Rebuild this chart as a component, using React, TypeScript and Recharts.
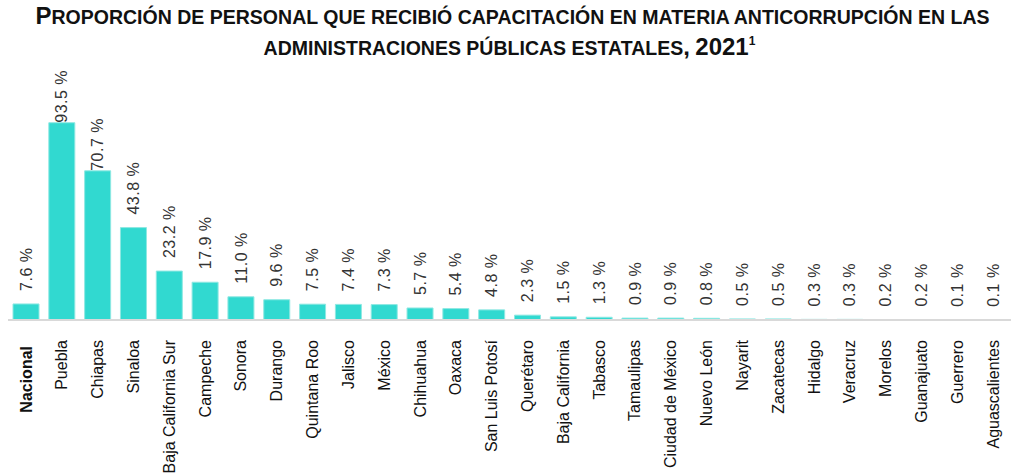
import React from 'react';
import { BarChart, Bar, XAxis, YAxis, LabelList } from 'recharts';

const titleLines = [
  'Proporción de personal que recibió capacitación en materia anticorrupción en las',
  'administraciones públicas estatales, 2021',
];

const states = [
  'Nacional', 'Puebla', 'Chiapas', 'Sinaloa', 'Baja California Sur', 'Campeche', 'Sonora',
  'Durango', 'Quintana Roo', 'Jalisco', 'México', 'Chihuahua', 'Oaxaca', 'San Luis Potosí',
  'Querétaro', 'Baja California', 'Tabasco', 'Tamaulipas', 'Ciudad de México', 'Nuevo León',
  'Nayarit', 'Zacatecas', 'Hidalgo', 'Veracruz', 'Morelos', 'Guanajuato', 'Guerrero',
  'Aguascalientes',
];

const percents = [
  7.6, 93.5, 70.7, 43.8, 23.2, 17.9, 11.0, 9.6, 7.5, 7.4, 7.3, 5.7, 5.4, 4.8,
  2.3, 1.5, 1.3, 0.9, 0.9, 0.8, 0.5, 0.5, 0.3, 0.3, 0.2, 0.2, 0.1, 0.1,
];

const data = states.map((name, i) => ({ name, value: percents[i] }));

const BAR = '#31d9d0';
const FONT = '"Liberation Sans", Arial, sans-serif';
const TITLE_FONT = '"Liberation Sans Narrow", "Liberation Sans", Arial, sans-serif';

// fake small caps: capitals and digits big, the rest upper-cased a bit smaller
const SmallCaps = ({ text }: { text: string }) => (
  <>
    {text.split('').map((ch, i) => {
      const big = ch !== ch.toLowerCase() || /[0-9,]/.test(ch);
      return (
        <span key={i} style={{ fontSize: big ? 24 : 19.5 }}>
          {ch.toUpperCase()}
        </span>
      );
    })}
  </>
);

const StateTick = (props: any) => {
  const { x, y, payload } = props;
  const bold = payload.value === 'Nacional';
  const ty = y + (bold ? 18 : 12);
  return (
    <text
      x={x}
      y={ty}
      dy="0.35em"
      transform={`rotate(-90, ${x}, ${ty})`}
      textAnchor="end"
      fontFamily={FONT}
      fontSize={16}
      fontWeight={bold ? 700 : 400}
      fill="#111"
    >
      {payload.value}
    </text>
  );
};

const ValueLabel = (props: any) => {
  const { x, y, width, value } = props;
  const cx = x + width / 2;
  // tallest label sits right on its bar, so it stays under the title
  const ty = y - 13 < 122 ? y : y - 13;
  return (
    <text
      x={cx}
      y={ty}
      dy="0.35em"
      transform={`rotate(-90, ${cx}, ${ty})`}
      textAnchor="start"
      fontFamily={FONT}
      fontSize={16}
      letterSpacing={0.5}
      fill="#333"
    >
      {`${Number(value).toFixed(1)} %`}
    </text>
  );
};

export default function App() {
  return (
    <div style={{ position: 'absolute', left: 0, top: 0, width: 1011, height: 474, background: '#fff' }}>
      <div
        style={{
          fontFamily: TITLE_FONT,
          fontWeight: 700,
          color: '#111',
          textAlign: 'center',
          lineHeight: '27px',
          paddingTop: 2,
          height: 58,
          whiteSpace: 'nowrap',
        }}
      >
        <div style={{ paddingLeft: 14, height: 26 }}>
          <SmallCaps text={titleLines[0]} />
        </div>
        <div style={{ paddingLeft: 8, height: 27 }}>
          <SmallCaps text={titleLines[1]} />
          <sup style={{ fontSize: 12, verticalAlign: 10 }}>1</sup>
        </div>
      </div>
      <BarChart
        width={1011}
        height={414}
        data={data}
        margin={{ top: 49, right: 0, bottom: 0, left: 8 }}
        barSize={26}
        style={{ position: 'absolute', left: 0, top: 60 }}
      >
        <YAxis hide domain={[0, 100]} />
        <XAxis
          dataKey="name"
          interval={0}
          height={154}
          tick={<StateTick />}
          tickLine={false}
          axisLine={{ stroke: '#d9d9d9', strokeWidth: 2 }}
        />
        <Bar dataKey="value" fill={BAR} stroke="#8ee8e2" strokeWidth={1} isAnimationActive={false}>
          <LabelList dataKey="value" content={<ValueLabel />} />
        </Bar>
      </BarChart>
    </div>
  );
}
